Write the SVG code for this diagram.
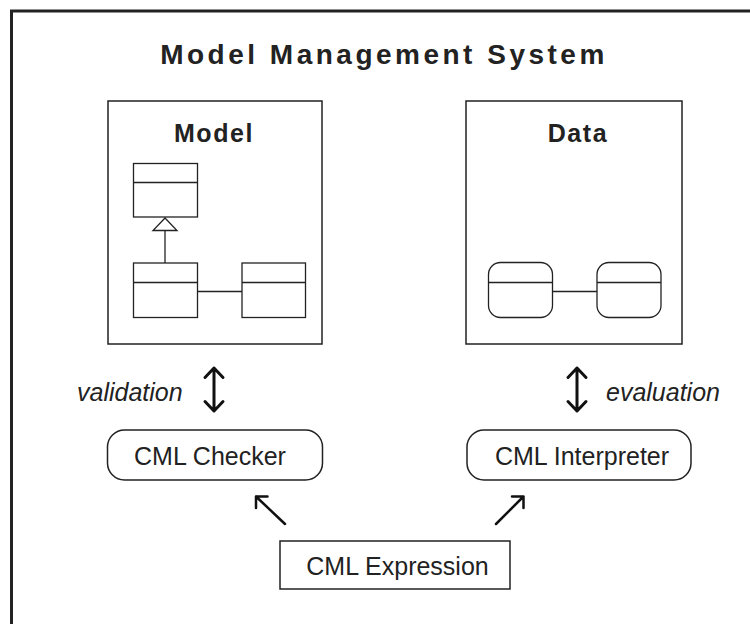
<svg xmlns="http://www.w3.org/2000/svg" width="750" height="624" viewBox="0 0 750 624">
<style>
.bx{fill:#fff;stroke:#222;stroke-width:1.5}
.ln{fill:none;stroke:#222;stroke-width:1.3}
.t{font-family:"Liberation Sans",Arial,sans-serif;font-size:25px;fill:#222}
.b{font-weight:bold;letter-spacing:1.6px}
.i{font-style:italic}
.ar{fill:none;stroke:#111;stroke-width:3;stroke-linecap:round;stroke-linejoin:round}
.ad{fill:none;stroke:#111;stroke-width:2.5;stroke-linecap:round;stroke-linejoin:round}
</style>
<rect width="750" height="624" fill="#fff"/>
<path d="M11.5,640 V11 H760" fill="none" stroke="#222" stroke-width="3"/>
<text class="t b" x="384" y="64" text-anchor="middle" style="font-size:28px;letter-spacing:3.5px">Model Management System</text>

<g id="model">
<rect class="bx" x="108" y="101" width="214" height="243"/>
<text class="t b" x="214" y="142" text-anchor="middle">Model</text>
<rect class="ln" x="133.5" y="163.5" width="64" height="53.5"/>
<line class="ln" x1="133.5" y1="182.5" x2="197.5" y2="182.5"/>
<polygon class="ln" points="165,218 153,230.5 177,230.5"/>
<line class="ln" x1="165" y1="230.5" x2="165" y2="263"/>
<rect class="ln" x="133.5" y="263" width="64" height="54.5"/>
<line class="ln" x1="133.5" y1="282.5" x2="197.5" y2="282.5"/>
<rect class="ln" x="242" y="263" width="63.5" height="54.5"/>
<line class="ln" x1="242" y1="282.5" x2="305.5" y2="282.5"/>
<line class="ln" x1="197.5" y1="291.5" x2="242" y2="291.5"/>
</g>

<g id="data">
<rect class="bx" x="466" y="101" width="216" height="243"/>
<text class="t b" x="578" y="142" text-anchor="middle">Data</text>
<rect class="ln" x="488.5" y="262.5" width="64" height="55" rx="12"/>
<line class="ln" x1="488.5" y1="282.5" x2="552.5" y2="282.5"/>
<rect class="ln" x="597" y="262.5" width="64" height="55" rx="12"/>
<line class="ln" x1="597" y1="282.5" x2="661" y2="282.5"/>
<line class="ln" x1="552.5" y1="291.5" x2="597" y2="291.5"/>
</g>

<g id="checker">
<rect class="bx" x="107.5" y="430" width="215" height="50" rx="17"/>
<text class="t" x="210" y="465" text-anchor="middle">CML Checker</text>
</g>

<g id="interpreter">
<rect class="bx" x="467" y="430" width="224" height="50" rx="17"/>
<text class="t" x="582" y="465" text-anchor="middle">CML Interpreter</text>
</g>

<g id="expression">
<rect class="bx" x="280" y="541" width="230" height="48"/>
<text class="t" x="397.5" y="575" text-anchor="middle">CML Expression</text>
</g>

<g id="connectors">
<path class="ar" d="M214,368 V411 M205,377.5 L214,368 L223,377.5 M205,401.5 L214,411 L223,401.5"/>
<text class="t i" x="77" y="401">validation</text>
<path class="ar" d="M577,368 V411 M568,377.5 L577,368 L586,377.5 M568,401.5 L577,411 L586,401.5"/>
<text class="t i" x="606" y="401">evaluation</text>
<path class="ad" d="M285,524 L256,496.5 M256,508 L256,496.5 L267.5,496.5"/>
<path class="ad" d="M496,524 L523.5,496.5 M512,496.5 L523.5,496.5 L523.5,508"/>
</g>
</svg>
